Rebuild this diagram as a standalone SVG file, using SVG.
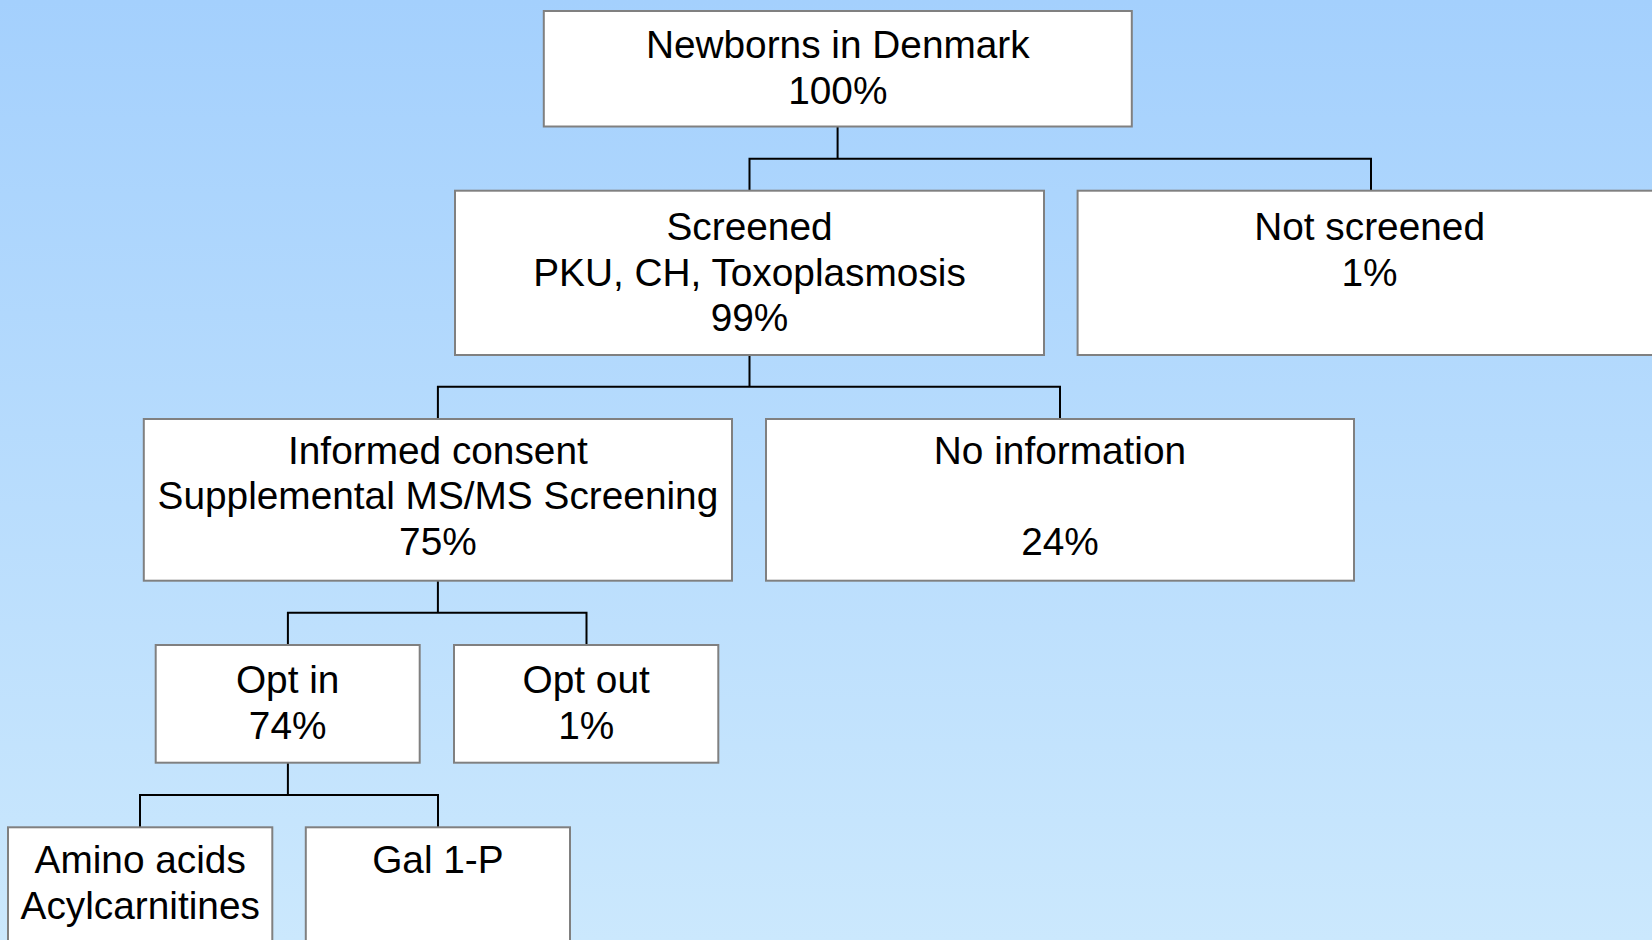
<svg xmlns="http://www.w3.org/2000/svg" width="1652" height="940" viewBox="0 0 1652 940">
<defs>
<linearGradient id="bg" x1="0" y1="0" x2="0" y2="1">
<stop offset="0" stop-color="#A4D0FD"/>
<stop offset="1" stop-color="#CBE8FD"/>
</linearGradient>
<style>
.box{fill:#FFFFFF;stroke:#808080;stroke-width:2}
.t{font-family:"Liberation Sans",Arial,sans-serif;font-size:38.8px;fill:#000000;text-anchor:middle}
.c{fill:none;stroke:#000000;stroke-width:2}
</style>
</defs>
<rect x="0" y="0" width="1652" height="940" fill="url(#bg)"/>
<g id="connectors">
<path class="c" d="M837.6,126.5 V158.7 M749.5,190.7 V158.7 H1371 V190.7"/>
<path class="c" d="M749.5,355 V386.7 M437.9,419 V386.7 H1060 V419"/>
<path class="c" d="M437.9,580.7 V612.7 M287.9,645 V612.7 H586.5 V645"/>
<path class="c" d="M287.9,762.7 V795 M140,827.3 V795 H438 V827.3"/>
</g>
<g id="newborns">
<rect class="box" x="543.8" y="11" width="588" height="115.5"/>
<text class="t" x="837.8" y="58">Newborns in Denmark</text>
<text class="t" x="837.8" y="104">100%</text>
</g>
<g id="screened">
<rect class="box" x="455" y="190.7" width="589" height="164.3"/>
<text class="t" x="749.5" y="240">Screened</text>
<text class="t" x="749.5" y="286">PKU, CH, Toxoplasmosis</text>
<text class="t" x="749.5" y="331">99%</text>
</g>
<g id="not-screened">
<rect class="box" x="1077.6" y="190.7" width="584" height="164.3"/>
<text class="t" x="1369.6" y="240">Not screened</text>
<text class="t" x="1369.6" y="286">1%</text>
</g>
<g id="informed-consent">
<rect class="box" x="143.8" y="419" width="588.2" height="161.7"/>
<text class="t" x="437.9" y="464">Informed consent</text>
<text class="t" x="437.9" y="509">Supplemental MS/MS Screening</text>
<text class="t" x="437.9" y="555">75%</text>
</g>
<g id="no-information">
<rect class="box" x="766" y="419" width="588" height="161.7"/>
<text class="t" x="1060" y="464">No information</text>
<text class="t" x="1060" y="555">24%</text>
</g>
<g id="opt-in">
<rect class="box" x="155.7" y="645" width="264" height="117.7"/>
<text class="t" x="287.7" y="692.5">Opt in</text>
<text class="t" x="287.7" y="738.5">74%</text>
</g>
<g id="opt-out">
<rect class="box" x="454" y="645" width="264.3" height="117.7"/>
<text class="t" x="586.2" y="692.5">Opt out</text>
<text class="t" x="586.2" y="738.5">1%</text>
</g>
<g id="amino-acids">
<rect class="box" x="8" y="827.3" width="264.3" height="130"/>
<text class="t" x="140.2" y="873">Amino acids</text>
<text class="t" x="140.2" y="918.5">Acylcarnitines</text>
</g>
<g id="gal-1-p">
<rect class="box" x="305.8" y="827.3" width="264.2" height="130"/>
<text class="t" x="437.9" y="873">Gal 1-P</text>
</g>
</svg>
